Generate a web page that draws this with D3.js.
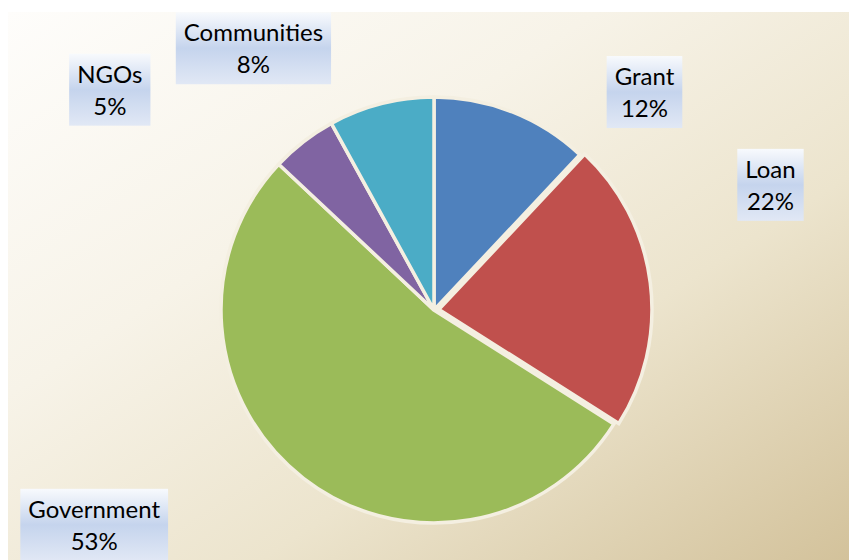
<!DOCTYPE html>
<html>
<head>
<meta charset="utf-8">
<script src="https://cdn.jsdelivr.net/npm/d3@7"></script>
<style>
	body { margin: 0; background: #fff; }
	svg { display: block; }
	text { font-family: Lato, "Open Sans", sans-serif; }
</style>
</head>
<body>
<svg id="chart"></svg>
<script>
const categories = ['Grant', 'Loan', 'Government', 'NGOs', 'Communities'];
const values = [12, 22, 53, 5, 8];
const colors = ['#4f81bd', '#c0504d', '#9bbb59', '#8064a2', '#4bacc6'];
const exploded = [0, 5, 0, 0, 0];

// label anchors as [angle in degrees from 12 o'clock, distance from centre]
const labelAnchors = [[44, 303], [69.6, 359], [237.7, 402], [304.2, 392], [325.4, 318]];

const width = 849;
const height = 560;
const cx = 434;
const cy = 310;
const radius = 213;

const svg = d3.select('#chart')
	.attr('width', width)
	.attr('height', height);

const defs = svg.append('defs');

const bgGrad = defs.append('linearGradient')
	.attr('id', 'bg-grad')
	.attr('x1', '0').attr('y1', '0')
	.attr('x2', '1').attr('y2', '1');
bgGrad.append('stop').attr('offset', '0').attr('stop-color', '#fefdfb');
bgGrad.append('stop').attr('offset', '0.35').attr('stop-color', '#f7f3e8');
bgGrad.append('stop').attr('offset', '0.65').attr('stop-color', '#ece4cd');
bgGrad.append('stop').attr('offset', '1').attr('stop-color', '#d3c29b');

const boxGrad = defs.append('linearGradient')
	.attr('id', 'box-grad')
	.attr('x1', '0').attr('y1', '0')
	.attr('x2', '0').attr('y2', '1');
boxGrad.append('stop').attr('offset', '0').attr('stop-color', '#f8fafd');
boxGrad.append('stop').attr('offset', '0.5').attr('stop-color', '#c5d4ed');
boxGrad.append('stop').attr('offset', '1').attr('stop-color', '#e1e8f5');

svg.append('rect')
	.attr('x', 8).attr('y', 12)
	.attr('width', width - 8).attr('height', height - 12)
	.attr('fill', 'url(#bg-grad)');

const pie = d3.pie().sort(null).value(d => d.value);
const arc = d3.arc().innerRadius(0).outerRadius(radius);

const data = categories.map((c, i) => ({ name: c, value: values[i], color: colors[i], explode: exploded[i] }));
const arcs = pie(data);

const g = svg.append('g').attr('transform', `translate(${cx},${cy})`);

g.selectAll('path')
	.data(arcs)
	.enter().append('path')
	.attr('d', arc)
	.attr('fill', d => d.data.color)
	.attr('stroke', '#f4efe1')
	.attr('stroke-width', 3.5)
	.attr('stroke-linejoin', 'miter')
	.attr('transform', d => {
		const mid = (d.startAngle + d.endAngle) / 2;
		return `translate(${Math.sin(mid) * d.data.explode},${-Math.cos(mid) * d.data.explode})`;
	});

const fontSize = 24;
const lineGap = 32;

const labels = g.selectAll('g.label')
	.data(arcs)
	.enter().append('g')
	.attr('class', 'label')
	.attr('transform', (d, i) => {
		const a = labelAnchors[i][0] * Math.PI / 180;
		const r = labelAnchors[i][1];
		return `translate(${Math.sin(a) * r},${-Math.cos(a) * r})`;
	});

const boxes = labels.append('rect').attr('fill', 'url(#box-grad)');

labels.append('text')
	.attr('text-anchor', 'middle')
	.attr('font-size', fontSize)
	.attr('fill', '#000')
	.attr('y', -lineGap / 2 + 9)
	.text(d => d.data.name);

labels.append('text')
	.attr('text-anchor', 'middle')
	.attr('font-size', fontSize)
	.attr('fill', '#000')
	.attr('y', lineGap / 2 + 9)
	.text(d => d.data.value + '%');

boxes.each(function() {
	const parent = d3.select(this.parentNode);
	let w = 0;
	parent.selectAll('text').each(function() { w = Math.max(w, this.getComputedTextLength()); });
	const bw = w + 16;
	d3.select(this)
		.attr('x', -bw / 2)
		.attr('y', -36)
		.attr('width', bw)
		.attr('height', 72);
});
</script>
</body>
</html>
